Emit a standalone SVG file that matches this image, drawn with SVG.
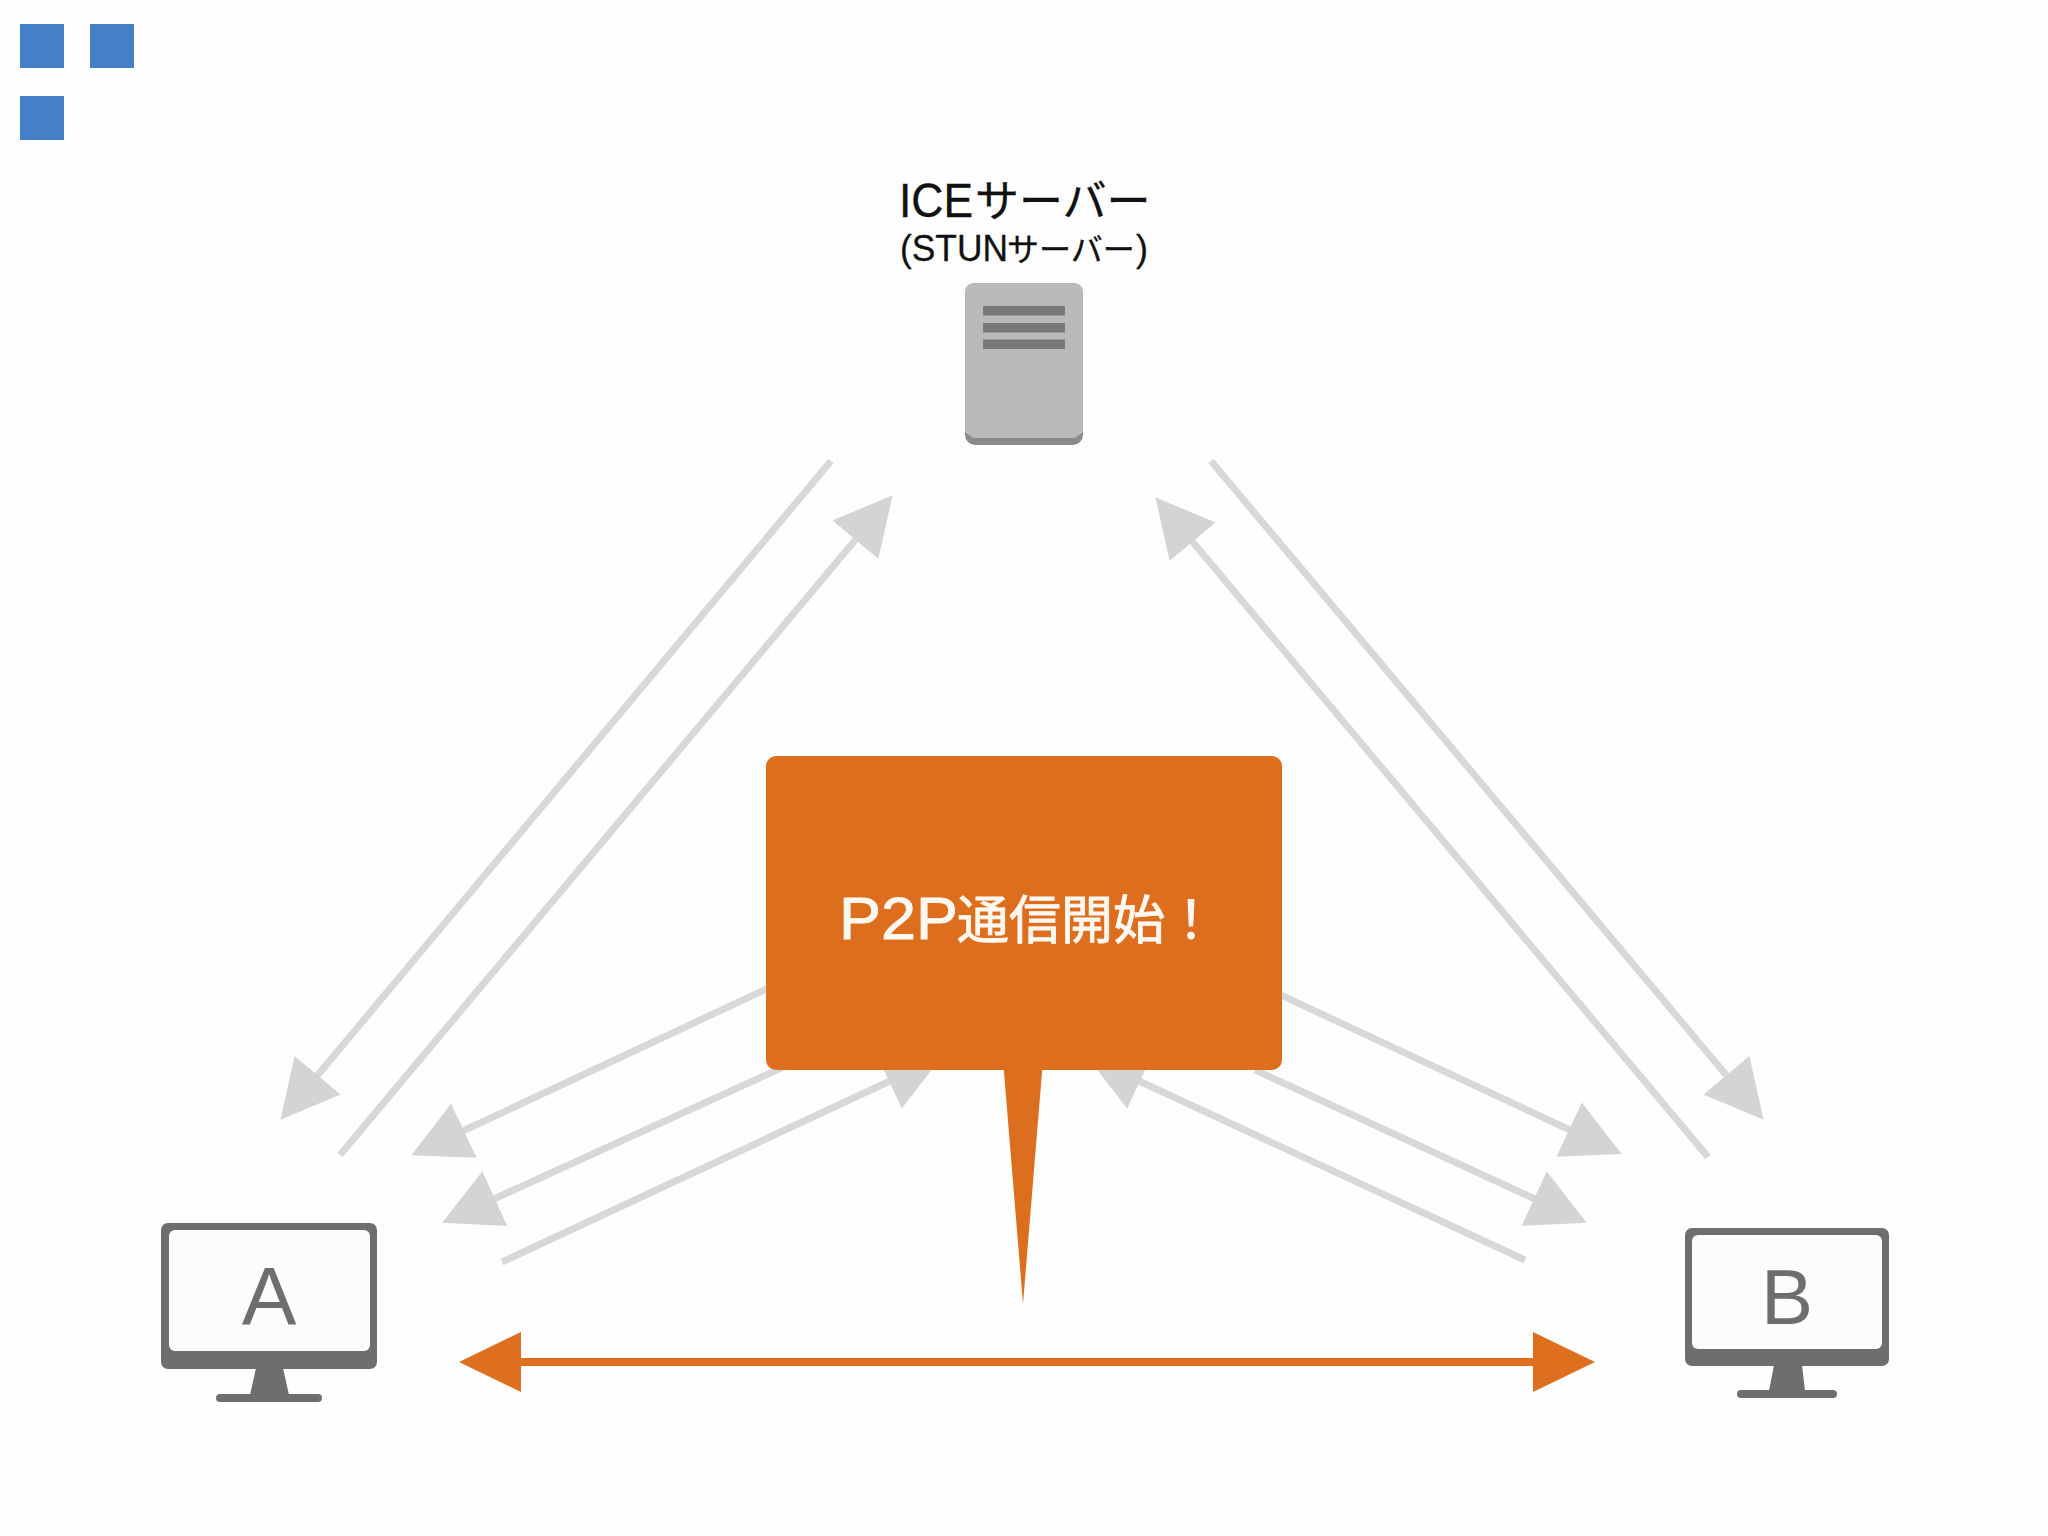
<svg xmlns="http://www.w3.org/2000/svg" width="2048" height="1536" viewBox="0 0 2048 1536">
<style>
.sq{fill:#4480c8}
.g{stroke:#d8d8da;stroke-width:7;fill:none;marker-end:url(#gh)}
.mon{fill:#6e6e70}
.scr{fill:#fcfcfd}
.lat{font-family:"Liberation Sans",Arial,sans-serif}
.cjk{font-family:"Noto Sans CJK JP","Liberation Sans",sans-serif}
.lbl{font-family:"Liberation Sans",Arial,sans-serif;fill:#6e6e70;text-anchor:middle}
text{fill:#111}
</style>
<defs>
<marker id="gh" markerUnits="userSpaceOnUse" markerWidth="62" markerHeight="62" refX="1" refY="31" orient="auto"><polygon points="0,1 58,31 0,61" fill="#d4d4d6"/></marker>
<marker id="oh" markerUnits="userSpaceOnUse" markerWidth="64" markerHeight="62" refX="1" refY="31" orient="auto-start-reverse"><polygon points="0,1 62,31 0,61" fill="#dd6f1e"/></marker>
</defs>
<rect width="2048" height="1536" fill="#fefefe"/>
<g id="squares">
<rect class="sq" x="20" y="24" width="44" height="44"/>
<rect class="sq" x="90" y="24" width="44" height="44"/>
<rect class="sq" x="20" y="96" width="44" height="44"/>
</g>
<g id="connectors">
<line class="g" x1="831" y1="461" x2="317" y2="1076"/>
<line class="g" x1="340" y1="1155" x2="856" y2="539"/>
<line class="g" x1="1211" y1="461" x2="1727" y2="1076"/>
<line class="g" x1="1708" y1="1157" x2="1192" y2="541"/>
<line class="g" x1="790" y1="978" x2="463" y2="1131"/>
<line class="g" x1="790" y1="1064" x2="494" y2="1199"/>
<line class="g" x1="502" y1="1262" x2="890" y2="1081"/>
<line class="g" x1="1270" y1="990" x2="1570" y2="1130"/>
<line class="g" x1="1255" y1="1070" x2="1535" y2="1199"/>
<line class="g" x1="1525" y1="1260" x2="1139" y2="1081"/>
<line x1="520" y1="1362" x2="1534" y2="1362" stroke="#dd6f1e" stroke-width="8" marker-start="url(#oh)" marker-end="url(#oh)"/>
</g>
<g id="ice-server">
<text x="899" y="217" stroke="#111" stroke-width="0.3"><tspan class="lat" font-size="49" textLength="74" lengthAdjust="spacingAndGlyphs">ICE</tspan><tspan class="cjk" font-size="44" x="975">サーバー</tspan></text>
<text x="900" y="261" stroke="#111" stroke-width="0.3"><tspan class="lat" font-size="36" textLength="108" lengthAdjust="spacingAndGlyphs">(STUN</tspan><tspan class="cjk" font-size="32" x="1007">サーバー</tspan><tspan class="lat" font-size="36" x="1136">)</tspan></text>
<rect x="965" y="283" width="118" height="162" rx="10" fill="#8a8a8a"/>
<path d="M975 283H1073Q1083 283 1083 293V432L1075 438H973L965 432V293Q965 283 975 283Z" fill="#bababa"/>
<rect x="983" y="306" width="82" height="9.500" fill="#787878"/>
<rect x="983" y="323" width="82" height="9.500" fill="#787878"/>
<rect x="983" y="339.500" width="82" height="9.500" fill="#787878"/>
</g>
<g id="callout">
<path d="M1003 1060L1023 1304L1043 1060Z" fill="#dc6e1e"/>
<rect x="766" y="756" width="516" height="314" rx="10" fill="#dc6e1e"/>
<text x="839" y="939" stroke="#fff8f0" stroke-width="0.9" style="fill:#fff8f0"><tspan class="lat" font-size="60" textLength="119" lengthAdjust="spacingAndGlyphs">P2P</tspan><tspan class="cjk" font-size="52" x="957">通信開始！</tspan></text>
</g>
<g id="computer-a">
<rect class="mon" x="161" y="1223" width="216" height="146" rx="7"/>
<rect class="scr" x="169" y="1230" width="201" height="121" rx="6"/>
<polygon class="mon" points="256,1368 283,1368 289,1395 250,1395"/>
<rect class="mon" x="216" y="1394" width="106" height="8" rx="4"/>
<text class="lbl" x="269" y="1324" font-size="82">A</text>
</g>
<g id="computer-b">
<rect class="mon" x="1685" y="1228" width="204" height="138" rx="7"/>
<rect class="scr" x="1692" y="1235" width="190" height="114" rx="6"/>
<polygon class="mon" points="1774,1365 1802,1365 1805,1391 1769,1391"/>
<rect class="mon" x="1737" y="1390" width="100" height="8" rx="4"/>
<text class="lbl" x="1787" y="1324" font-size="78">B</text>
</g>
</svg>
